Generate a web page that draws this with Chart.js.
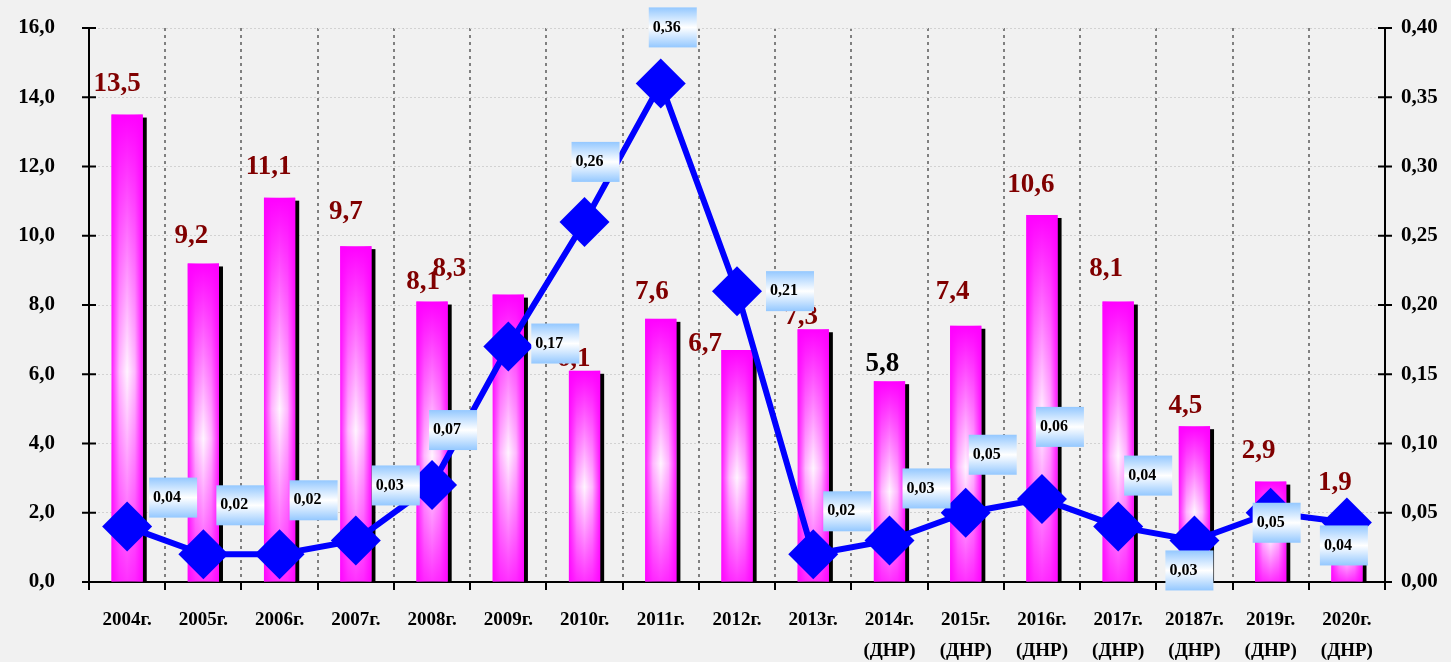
<!DOCTYPE html>
<html>
<head>
<meta charset="utf-8">
<script src="https://cdn.jsdelivr.net/npm/chart.js@4.4.0/dist/chart.umd.min.js"></script>
<style>
    html, body { margin: 0; padding: 0; background: #f1f1f1; }
    canvas { display: block; }
</style>
</head>
<body>
<canvas id="chart" width="1451" height="662"></canvas>
<script>
// data
const categories = [
    '2004г.', '2005г.', '2006г.', '2007г.', '2008г.', '2009г.', '2010г.', '2011г.', '2012г.', '2013г.',
    ['2014г.', '(ДНР)'], ['2015г.', '(ДНР)'], ['2016г.', '(ДНР)'], ['2017г.', '(ДНР)'],
    ['20187г.', '(ДНР)'], ['2019г.', '(ДНР)'], ['2020г.', '(ДНР)']
];
const barValues = [13.5, 9.2, 11.1, 9.7, 8.1, 8.3, 6.1, 7.6, 6.7, 7.3, 5.8, 7.4, 10.6, 8.1, 4.5, 2.9, 1.9];
const lineValues = [0.04, 0.02, 0.02, 0.03, 0.07, 0.17, 0.26, 0.36, 0.21, 0.02, 0.03, 0.05, 0.06, 0.04, 0.03, 0.05, 0.043];

// label placement (pixels, relative to the bar top / the marker)
const barLabelDx = [-10, -12, -11, -10, -9, -59, -11, -9, -32, -12, -7, -13, -11, -12, -9, -12, -12];
const barLabelDy = [-31, -27, -31, -34, -20, -26, -12, -27, -6, -12, -17, -34, -30, -33, -20, -31, -33];
const barLabelColors = barValues.map((v, i) => i === 10 ? '#000000' : '#800000');
const boxDx = [46, 37, 34, 40, 21, 47, 11, 12, 53, 34, 37, 27, 18, 30, -5, 6, -3];
const boxDy = [-29, -49, -54, -55, -55, -3, -60, -56, 0, -43, -52, -58, -72, -51, 30, 10, 23];

const serif = "'Liberation Serif', 'Times New Roman', serif";

function comma(v, digits) {
    return v.toFixed(digits).replace('.', ',');
}

// vertical magenta -> white -> magenta fill for each bar
function barFill(context) {
    const chart = context.chart;
    if (!chart.chartArea || context.type !== 'data') return '#ff00ff';
    const top = chart.scales.y.getPixelForValue(context.raw);
    const base = chart.scales.y.getPixelForValue(0);
    const g = chart.ctx.createLinearGradient(0, top, 0, base);
    g.addColorStop(0, '#ff00ff');
    g.addColorStop(0.55, '#fff4ff');
    g.addColorStop(1, '#ff30ff');
    return g;
}

const barDecor = {
    id: 'barDecor',
    beforeDatasetDraw(chart, args) {
        if (args.index !== 0) return;
        const ctx = chart.ctx;
        ctx.save();
        ctx.fillStyle = '#000';
        args.meta.data.forEach(bar => {
            const p = bar.getProps(['x', 'y', 'base', 'width'], true);
            ctx.fillRect(p.x - p.width / 2 + 4, p.y + 3, p.width, p.base - p.y - 3);
        });
        ctx.restore();
    },
    afterDatasetDraw(chart, args) {
        if (args.index !== 0) return;
        const ctx = chart.ctx;
        ctx.save();
        args.meta.data.forEach(bar => {
            const p = bar.getProps(['x', 'y', 'base', 'width'], true);
            const l = p.x - p.width / 2;
            const g = ctx.createLinearGradient(l, 0, l + p.width, 0);
            g.addColorStop(0, 'rgba(255,0,255,0.9)');
            g.addColorStop(0.25, 'rgba(255,0,255,0.25)');
            g.addColorStop(0.5, 'rgba(255,0,255,0)');
            g.addColorStop(0.75, 'rgba(255,0,255,0.25)');
            g.addColorStop(1, 'rgba(255,0,255,0.9)');
            ctx.fillStyle = g;
            ctx.fillRect(l, p.y, p.width, p.base - p.y);
        });
        ctx.restore();
    }
};

const valueLabels = {
    id: 'valueLabels',
    afterDatasetsDraw(chart) {
        const ctx = chart.ctx;
        ctx.save();
        // bar values
        ctx.font = 'bold 27px ' + serif;
        ctx.textAlign = 'center';
        ctx.textBaseline = 'middle';
        chart.getDatasetMeta(0).data.forEach((bar, i) => {
            ctx.fillStyle = barLabelColors[i];
            ctx.fillText(comma(barValues[i], 1), bar.x + barLabelDx[i], bar.y + barLabelDy[i]);
        });
        // boxed line values
        ctx.font = 'bold 16px ' + serif;
        ctx.textAlign = 'left';
        const w = 48, h = 40;
        chart.getDatasetMeta(1).data.forEach((pt, i) => {
            const cx = pt.x + boxDx[i], cy = pt.y + boxDy[i];
            const left = cx - w / 2, top = cy - h / 2;
            const g = ctx.createLinearGradient(0, top, 0, top + h);
            g.addColorStop(0, '#94c8ff');
            g.addColorStop(0.5, '#ffffff');
            g.addColorStop(1, '#94c8ff');
            ctx.fillStyle = g;
            ctx.fillRect(left, top, w, h);
            ctx.fillStyle = '#000';
            ctx.fillText(comma(lineValues[i], 2), left + 4, cy);
        });
        ctx.restore();
    },
    afterDraw(chart) {
        // tick marks crossing both value axes
        const ctx = chart.ctx;
        const a = chart.chartArea;
        ctx.save();
        ctx.strokeStyle = '#000';
        ctx.lineWidth = 2;
        ctx.beginPath();
        chart.scales.y.ticks.forEach((t, i) => {
            const y = chart.scales.y.getPixelForTick(i);
            ctx.moveTo(a.left - 7, y); ctx.lineTo(a.left + 7, y);
        });
        chart.scales.y1.ticks.forEach((t, i) => {
            const y = chart.scales.y1.getPixelForTick(i);
            ctx.moveTo(a.right - 7, y); ctx.lineTo(a.right + 7, y);
        });
        ctx.stroke();
        ctx.restore();
    }
};

new Chart(document.getElementById('chart'), {
    type: 'bar',
    data: {
        labels: categories,
        datasets: [{
            type: 'bar',
            data: barValues,
            backgroundColor: barFill,
            borderWidth: 0,
            categoryPercentage: 1,
            barPercentage: 0.41,
            yAxisID: 'y',
            order: 1
        }, {
            type: 'line',
            data: lineValues,
            borderColor: '#0000ff',
            borderWidth: 6,
            tension: 0,
            pointStyle: 'rectRot',
            pointRadius: 25,
            pointBackgroundColor: '#0000ff',
            pointBorderWidth: 0,
            yAxisID: 'y1',
            clip: false,
            order: 0
        }]
    },
    options: {
        responsive: false,
        animation: false,
        events: [],
        layout: { padding: { top: 28, left: 0, right: 0, bottom: 0 } },
        plugins: {
            legend: { display: false },
            tooltip: { enabled: false }
        },
        scales: {
            x: {
                grid: {
                    offset: true,
                    color: '#808080',
                    lineWidth: 2,
                    tickColor: '#000',
                    tickWidth: 2,
                    tickLength: 8,
                    tickBorderDash: []
                },
                border: { color: '#000', width: 2, dash: [3, 4] },
                ticks: {
                    color: '#000',
                    padding: 15,
                    maxRotation: 0,
                    autoSkip: false,
                    font: { family: serif, size: 19, weight: 'bold', lineHeight: 1.6 }
                },
                afterFit(scale) { scale.height = 80; }
            },
            y: {
                position: 'left',
                min: 0,
                max: 16,
                ticks: {
                    stepSize: 2,
                    color: '#000',
                    padding: 4,
                    font: { family: serif, size: 21, weight: 'bold' },
                    callback: v => comma(v, 1)
                },
                grid: {
                    color: '#d2d2d2',
                    lineWidth: 1,
                    tickColor: 'rgba(0,0,0,0)',
                    tickLength: 30
                },
                border: { color: '#000', width: 2, dash: [2, 2] },
                afterFit(scale) { scale.width = 89; }
            },
            y1: {
                position: 'right',
                min: 0,
                max: 0.4,
                ticks: {
                    stepSize: 0.05,
                    color: '#000',
                    padding: 4,
                    font: { family: serif, size: 21, weight: 'bold' },
                    callback: v => comma(v, 2)
                },
                grid: {
                    drawOnChartArea: false,
                    tickColor: 'rgba(0,0,0,0)',
                    tickLength: 12
                },
                border: { color: '#000', width: 2 },
                afterFit(scale) { scale.width = 66; }
            }
        }
    },
    plugins: [barDecor, valueLabels]
});
</script>
</body>
</html>
